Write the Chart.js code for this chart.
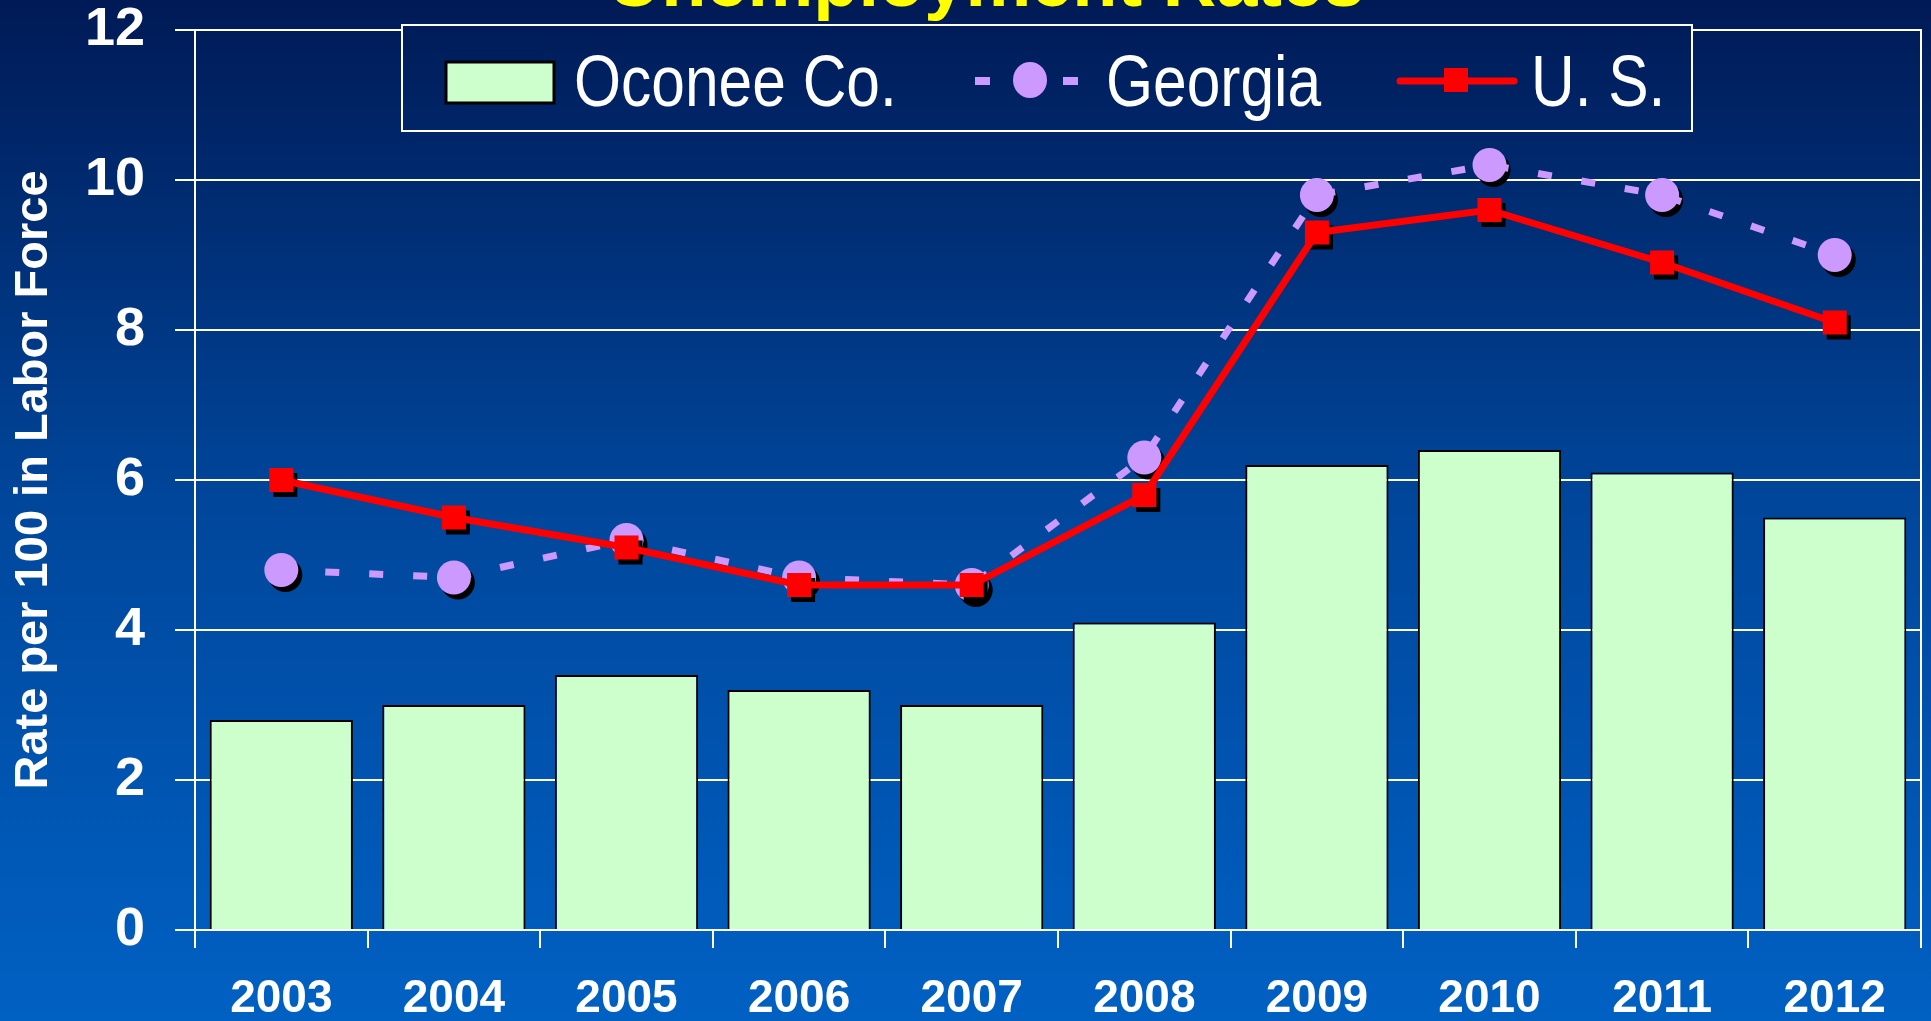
<!DOCTYPE html>
<html>
<head>
<meta charset="utf-8">
<title>Unemployment Rates</title>
<script src="https://cdn.jsdelivr.net/npm/chart.js@4.4.1/dist/chart.umd.min.js"></script>
<style>
  html, body { margin: 0; padding: 0; background: #00479c; overflow: hidden; }
  #wrap { width: 1931px; height: 1021px; }
</style>
</head>
<body>
<div id="wrap"><canvas id="chart" width="1931" height="1021"></canvas></div>
<script>
// === DATA ===
const years = ["2003", "2004", "2005", "2006", "2007", "2008", "2009", "2010", "2011", "2012"];
const oconee = [2.8, 3.0, 3.4, 3.2, 3.0, 4.1, 6.2, 6.4, 6.1, 5.5];
const georgia = [4.8, 4.7, 5.2, 4.7, 4.6, 6.3, 9.8, 10.2, 9.8, 9.0];
const us = [6.0, 5.5, 5.1, 4.6, 4.6, 5.8, 9.3, 9.6, 8.9, 8.1];
const seriesNames = ["Oconee Co.", "Georgia", "U. S."];
const yMin = 0, yMax = 12, yStep = 2;
const chartTitle = "Unemployment Rates";
const yTitle = "Rate per 100 in Labor Force";

const SANS = "'Liberation Sans', Arial, sans-serif";
const BAR_FILL = "#ccffcc";
const GA_COLOR = "#cc99ff";
const US_COLOR = "#ff0000";

function bgGradient(ctx, h) {
    const g = ctx.createLinearGradient(0, 0, 0, h);
    g.addColorStop(0, "#001a56");
    g.addColorStop(0.5, "#00479c");
    g.addColorStop(1, "#0061c3");
    return g;
}

// === PLUGINS ===
const background = {
    id: "background",
    beforeDraw(chart) {
        const ctx = chart.ctx;
        ctx.save();
        ctx.fillStyle = bgGradient(ctx, chart.height);
        ctx.fillRect(0, 0, chart.width, chart.height);
        ctx.restore();
    }
};

// black drop shadow under the line markers
const markerShadow = {
    id: "markerShadow",
    beforeDatasetDraw(chart, args) {
        const ds = chart.data.datasets[args.index];
        if (ds.type !== "line") return;
        const ctx = chart.ctx;
        const r = ds.pointRadius;
        ctx.save();
        ctx.fillStyle = "#000";
        args.meta.data.forEach(pt => {
            ctx.beginPath();
            if (ds.pointStyle === "rect") {
                const s = r * Math.SQRT1_2;
                ctx.rect(pt.x - s + 4, pt.y - s + 5, 2 * s, 2 * s);
            } else {
                ctx.arc(pt.x + 4, pt.y + 5, r, 0, Math.PI * 2);
            }
            ctx.fill();
        });
        ctx.restore();
    }
};

// right-hand frame line of the plot
const rightFrame = {
    id: "rightFrame",
    afterDatasetsDraw(chart) {
        const a = chart.chartArea;
        const ctx = chart.ctx;
        ctx.save();
        ctx.strokeStyle = "#ffffff";
        ctx.lineWidth = 2;
        ctx.beginPath();
        ctx.moveTo(a.right, a.top - 1);
        ctx.lineTo(a.right, a.bottom + 18);
        ctx.stroke();
        ctx.restore();
    }
};

// narrow text: regular face squeezed horizontally
function narrowText(ctx, text, x, y, squeeze) {
    ctx.save();
    ctx.translate(x, y);
    ctx.scale(squeeze, 1);
    ctx.fillText(text, 0, 0);
    ctx.restore();
}

// title (mostly cut off at the top) and the boxed legend
const titleAndLegend = {
    id: "titleAndLegend",
    afterDraw(chart) {
        const ctx = chart.ctx;
        const ds = chart.data.datasets;
        ctx.save();

        // title
        ctx.fillStyle = "#ffff00";
        ctx.font = "bold 74px " + SANS;
        ctx.textAlign = "center";
        ctx.textBaseline = "alphabetic";
        ctx.fillText(chartTitle, 986, 6);

        // legend box
        const box = { x: 402, y: 25, w: 1290, h: 106 };
        ctx.fillStyle = bgGradient(ctx, chart.height);
        ctx.fillRect(box.x, box.y, box.w, box.h);
        ctx.strokeStyle = "#ffffff";
        ctx.lineWidth = 2;
        ctx.strokeRect(box.x, box.y, box.w, box.h);

        const cy = 81;
        const squeeze = 0.84;
        ctx.font = "72px " + SANS;
        ctx.textAlign = "left";

        // Oconee swatch
        ctx.fillStyle = ds[0].backgroundColor;
        ctx.fillRect(446, 62, 108, 41);
        ctx.strokeStyle = "#000";
        ctx.lineWidth = 3;
        ctx.strokeRect(446, 62, 108, 41);
        ctx.fillStyle = "#ffffff";
        narrowText(ctx, ds[0].label, 574, 106, squeeze);

        // Georgia symbol
        ctx.fillStyle = ds[1].borderColor;
        ctx.fillRect(975, cy - 4, 15, 8);
        ctx.fillRect(1063, cy - 4, 15, 8);
        ctx.beginPath();
        ctx.ellipse(1030, 80, 17, 18, 0, 0, Math.PI * 2);
        ctx.fill();
        ctx.fillStyle = "#ffffff";
        narrowText(ctx, ds[1].label, 1106, 106, squeeze);

        // U.S. symbol
        ctx.strokeStyle = ds[2].borderColor;
        ctx.lineWidth = 7;
        ctx.lineCap = "round";
        ctx.beginPath();
        ctx.moveTo(1400, cy);
        ctx.lineTo(1514, cy);
        ctx.stroke();
        ctx.fillStyle = ds[2].backgroundColor;
        ctx.fillRect(1444, 68, 24, 24);
        ctx.fillStyle = "#ffffff";
        narrowText(ctx, ds[2].label, 1531, 106, squeeze);

        ctx.restore();
    }
};

// no extra room for overhanging tick labels; layout padding decides the frame
function noOverhang(scale) {
    scale.paddingTop = 0;
    scale.paddingBottom = 0;
    scale.paddingLeft = 0;
    scale.paddingRight = 0;
}

// === CHART ===
const ctx = document.getElementById("chart").getContext("2d");

const chart = new Chart(ctx, {
    data: {
        labels: years,
        datasets: [
            {
                type: "bar",
                label: seriesNames[0],
                data: oconee,
                backgroundColor: BAR_FILL,
                borderColor: "#000000",
                borderWidth: 2,
                barPercentage: 0.83,
                categoryPercentage: 1.0,
                order: 2
            },
            {
                type: "line",
                label: seriesNames[1],
                data: georgia,
                borderColor: GA_COLOR,
                backgroundColor: GA_COLOR,
                borderWidth: 7,
                borderDash: [14, 30],
                tension: 0,
                pointStyle: "circle",
                pointRadius: 17,
                pointBorderWidth: 0,
                pointBackgroundColor: GA_COLOR,
                order: 1
            },
            {
                type: "line",
                label: seriesNames[2],
                data: us,
                borderColor: US_COLOR,
                backgroundColor: US_COLOR,
                borderWidth: 7,
                tension: 0,
                pointStyle: "rect",
                pointRadius: 17,
                pointBorderWidth: 0,
                pointBackgroundColor: US_COLOR,
                order: 0
            }
        ]
    },
    options: {
        responsive: false,
        animation: false,
        devicePixelRatio: 1,
        layout: {
            autoPadding: false,
            padding: { top: 30, right: 10, left: 0, bottom: 0 }
        },
        plugins: {
            legend: { display: false },
            title: { display: false },
            tooltip: { enabled: false }
        },
        scales: {
            x: {
                type: "category",
                grid: {
                    offset: true,
                    drawOnChartArea: false,
                    drawTicks: true,
                    tickLength: 18,
                    color: "#ffffff",
                    lineWidth: 2
                },
                border: { color: "#ffffff", width: 2 },
                ticks: {
                    color: "#ffffff",
                    padding: 24,
                    maxRotation: 0,
                    font: { family: SANS, size: 46, weight: "bold" }
                },
                afterFit(scale) { scale.height = 91; noOverhang(scale); }
            },
            y: {
                min: yMin,
                max: yMax,
                position: "left",
                grid: {
                    color: "#ffffff",
                    lineWidth: 2,
                    tickLength: 20,
                    drawTicks: true
                },
                border: { color: "#ffffff", width: 2 },
                ticks: {
                    stepSize: yStep,
                    color: "#ffffff",
                    padding: 30,
                    font: { family: SANS, size: 54, weight: "bold" }
                },
                title: {
                    display: true,
                    text: yTitle,
                    color: "#ffffff",
                    padding: { top: 6, bottom: 0 },
                    font: { family: SANS, size: 47, weight: "bold" }
                },
                afterFit(scale) { scale.width = 195; noOverhang(scale); }
            }
        }
    },
    plugins: [background, markerShadow, rightFrame, titleAndLegend]
});
</script>
</body>
</html>
